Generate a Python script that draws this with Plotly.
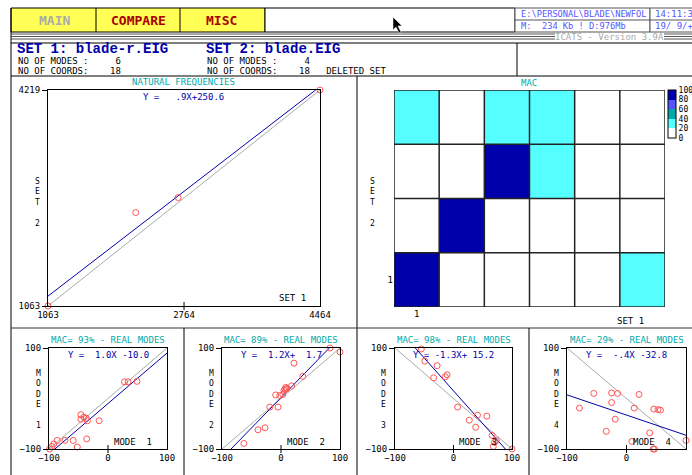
import numpy as np
import plotly.graph_objects as go

W, H = 692, 475


def fx(x):
    return x / W


def fy(y):
    return 1 - y / H


# ---------------- data ----------------
# natural frequencies of the paired modes (set 1 vs set 2)
nf_set1 = [1063, 2160, 2690, 4464]
nf_set2 = [1063, 2429, 2648, 4219]
nf_fit = (0.9, 250.6)
nf_xticks = [1063, 2764, 4464]
nf_yticks = [1063, 4219]

# MAC matrix: rows = set 2 modes, columns = set 1 modes (%)
mac_matrix = [
    [93, 4, 2, 1, 3, 27],
    [5, 89, 8, 3, 1, 2],
    [2, 6, 98, 24, 5, 1],
    [22, 3, 26, 29, 11, 7],
]
mac_bands = [0, 20, 40, 60, 80, 100]
mac_colors = ["#ffffff", "#55ffff", "#00aaaa", "#5555ff", "#0000aa"]

# mode shape correlation for each paired mode
modes = [1, 2, 3, 4]
mode_mac = [93, 89, 98, 29]
fit_slope = [1.0, 1.2, -1.3, -0.4]
fit_icpt = [-10.0, 1.7, 15.2, -32.8]

mode1_x = [-99, -95, -92, -86, -73, -59, -52, -36, -46, -46, -41, -37, -35, -15, 28, 34, 49]
mode1_y = [-100, -95, -90, -83, -83, -83, -96, -80, -32, -41, -37, -39, -44, -44, 33, 33, 34]
mode2_x = [83, 100, 22, 37, 18, 8, 9, 5, 3, -2, -9, -5, -19, -27, -39, -63, 10, 7]
mode2_y = [100, 92, 70, 44, 25, 22, 19, 16, 8, 6, 7, -17, -17, -58, -62, -89, 20, 18]
mode3_x = [-55, -49, -28, -11, -14, -34, 7, 41, 57, 27, 38, 66, 73, 70, 68, 100]
mode3_y = [98, 74, 65, 47, 43, 41, -17, -33, -35, -43, -57, -73, -83, -87, -95, -100]
mode4_x = [-79, -55, -25, -15, -25, 21, 13, -19, -34, 46, 53, 57, 39, 9, 47, 45, 100]
mode4_y = [-19, 10, 11, 10, -8, 8, -19, -41, -65, -21, -22, -23, -68, -85, -100, -100, -83]
mode_xs = [mode1_x, mode2_x, mode3_x, mode4_x]
mode_ys = [mode1_y, mode2_y, mode3_y, mode4_y]
mode_ticks = [-100, 0, 100]

# ---------------- styling ----------------
MONO = "DejaVu Sans Mono"
BLACK = "#000000"
TEAL = "#00aaaa"
DBLUE = "#0000aa"
LBLUE = "#5555ff"
RED = "#ff5555"
GRAY = "#aaaaaa"
TICK = dict(family=MONO, size=9, color=BLACK)


def fit_label(m, b):
    s = f"{m:.1f}".replace("0.", ".")
    s = s.rjust(4)
    if b >= 0:
        c = "+" + f"{b:5.1f}"
    else:
        c = " " + f"{b:5.1f}"
    return ("Y = " + s + "X" + c).replace(" ", "\u00a0")


def clip_line(m, b, xr, yr):
    lo, hi = xr
    if m != 0:
        xa = (yr[0] - b) / m
        xb = (yr[1] - b) / m
        lo = max(lo, min(xa, xb))
        hi = min(hi, max(xa, xb))
    xs = np.array([lo, hi])
    return xs, m * xs + b


fig = go.Figure()
shapes = []
ann = []


def text(x, y, s, color=BLACK, size=9, anchor="left", family=MONO):
    ann.append(dict(x=fx(x), y=fy(y), xref="paper", yref="paper",
                    text=s.replace(" ", "\u00a0"),
                    showarrow=False, xanchor=anchor, yanchor="middle",
                    font=dict(family=family, size=size, color=color)))


def hline(x0, x1, y, color=BLACK, w=1):
    shapes.append(dict(type="line", xref="paper", yref="paper", x0=fx(x0), x1=fx(x1), y0=fy(y), y1=fy(y),
                       line=dict(color=color, width=w)))


def vline(x, y0, y1, color=BLACK, w=1):
    shapes.append(dict(type="line", xref="paper", yref="paper", x0=fx(x), x1=fx(x), y0=fy(y0), y1=fy(y1),
                       line=dict(color=color, width=w)))


def rect(x0, y0, x1, y1, fill, color=BLACK, w=1, layer="below"):
    shapes.append(dict(type="rect", xref="paper", yref="paper", x0=fx(x0), x1=fx(x1), y0=fy(y1), y1=fy(y0),
                       fillcolor=fill, line=dict(color=color, width=w), layer=layer))


def stacked(x, ytop, label):
    # vertical axis title written one character per line
    ann.append(dict(x=fx(x), y=fy(ytop - 5), xref="paper", yref="paper",
                    text="<br>".join(label), showarrow=False, xanchor="center", yanchor="top",
                    font=dict(family=MONO, size=8, color=BLACK)))


# ---------------- screen frame ----------------
rect(11, 8, 265, 32, "#ffff55")
vline(96, 8, 32)
vline(180, 8, 32)
rect(265, 8, 515, 32, "#ffffff")
rect(515, 8, 650, 32, "#ffffff", color="#555555")
rect(650, 8, 700, 32, "#ffffff", color="#555555")
hline(515, 700, 20, color="#555555")
text(54, 20, "<b>MAIN</b>", color=GRAY, size=13, anchor="center")
text(138, 20, "<b>COMPARE</b>", color="#aa0000", size=13, anchor="center")
text(222, 20, "<b>MISC</b>", color="#aa0000", size=13, anchor="center")
text(519, 14, "E:\\PERSONAL\\BLADE\\NEWFOL", color=LBLUE, size=8.7)
text(519, 26, "M:  234 Kb ! D:976Mb", color=LBLUE, size=8.7)
text(653, 14, "14:11:3", color=LBLUE, size=9)
text(653, 26, "19/ 9/+", color=LBLUE, size=9)
for yy in (34, 36.5, 39):
    hline(11, 692, yy, color="#555555")
rect(555, 33, 664, 41, "#ffffff", color="#ffffff", w=0, layer="above")
text(609, 37, "ICATS - Version 3.9A", color=GRAY, size=9, anchor="center")

# mouse pointer
pts = [(393, 17), (393, 30), (396, 27), (399, 33), (401, 32), (398, 26), (402, 26)]
path = "M " + " L ".join(f"{fx(a):.5f},{fy(b):.5f}" for a, b in pts) + " Z"
shapes.append(dict(type="path", xref="paper", yref="paper", path=path, fillcolor=BLACK,
                   line=dict(color="#ffffff", width=0.5)))

# header block
hline(11, 692, 43)
hline(11, 692, 76)
vline(517, 43, 76)
vline(11, 8, 475)
text(15, 49, "<b>SET 1: blade-r.EIG</b>", color=DBLUE, size=14, family="Liberation Mono")
text(204, 49, "<b>SET 2: blade.EIG</b>", color=DBLUE, size=14, family="Liberation Mono")
text(16, 61, "NO OF MODES :     6")
text(16, 71, "NO OF COORDS:    18")
text(205, 61, "NO OF MODES :     4")
text(205, 71, "NO OF COORDS:    18   DELETED SET")

# panel separators
vline(357, 76, 475)
hline(11, 692, 328, color="#333333")
for xx in (184, 529):
    vline(xx, 328, 475)

layout_axes = {}


def scatter_axes(n, box, xr, yr, xt, yt):
    sx = "" if n == 1 else str(n)
    layout_axes["xaxis" + sx] = dict(domain=[fx(box[0]), fx(box[1])], range=xr, anchor="y" + sx,
                                     showline=True, mirror=True, linecolor=BLACK, linewidth=1,
                                     showgrid=False, zeroline=False, tickvals=xt, ticks="",
                                     tickfont=TICK, fixedrange=True, automargin=False)
    layout_axes["yaxis" + sx] = dict(domain=[fy(box[3]), fy(box[2])], range=yr, anchor="x" + sx,
                                     showline=True, mirror=True, linecolor=BLACK, linewidth=1,
                                     showgrid=False, zeroline=False, tickvals=yt, ticks="outside",
                                     ticklen=5, tickcolor=BLACK, tickfont=TICK, fixedrange=True,
                                     automargin=False)


# ---------------- natural frequencies ----------------
NF_BOX = (48, 320, 90, 306)
nf_xr = [nf_xticks[0], nf_xticks[-1]]
nf_yr = [nf_yticks[0], nf_yticks[-1]]
fig.add_trace(go.Scatter(x=nf_xr, y=nf_yr, mode="lines", line=dict(color=GRAY, width=1),
                         xaxis="x", yaxis="y", hoverinfo="skip"))
lx, ly = clip_line(nf_fit[0], nf_fit[1], nf_xr, nf_yr)
fig.add_trace(go.Scatter(x=lx, y=ly, mode="lines", line=dict(color=DBLUE, width=1),
                         xaxis="x", yaxis="y"))
fig.add_trace(go.Scatter(x=nf_set1, y=nf_set2, mode="markers", cliponaxis=False,
                         marker=dict(symbol="circle-open", size=6, color=RED, line=dict(width=1)),
                         xaxis="x", yaxis="y"))
scatter_axes(1, NF_BOX, nf_xr, nf_yr, nf_xticks, nf_yticks)
text(183, 82, "NATURAL FREQUENCIES", color=TEAL, anchor="center")
text(183, 97, fit_label(*nf_fit), color=DBLUE, anchor="center")
text(308, 298, "SET 1", anchor="right")
stacked(37, 180, "SET 2")
shapes.append(dict(type="line", xref="x", yref="paper", x0=nf_xticks[1], x1=nf_xticks[1],
                   y0=fy(NF_BOX[3] + 4), y1=fy(NF_BOX[3] - 4), line=dict(color=BLACK, width=1)))

# ---------------- MAC matrix ----------------
MAC_BOX = (394, 665, 90, 307)
n_rows, n_cols = len(mac_matrix), len(mac_matrix[0])
cs = []
for i, c in enumerate(mac_colors):
    cs.append([mac_bands[i] / 100, c])
    cs.append([mac_bands[i + 1] / 100, c])
fig.add_trace(go.Heatmap(
    z=mac_matrix, x=list(range(1, n_cols + 1)), y=list(range(1, n_rows + 1)),
    zmin=mac_bands[0], zmax=mac_bands[-1], colorscale=cs, xaxis="x2", yaxis="y2",
    colorbar=dict(x=fx(668), xanchor="left", y=fy(90), yanchor="top", lenmode="pixels", len=48,
                  thickness=8, xpad=0, ypad=0, outlinecolor=BLACK, outlinewidth=1,
                  tickvals=mac_bands, ticks="", tickfont=dict(family=MONO, size=8, color=BLACK))))
layout_axes["xaxis2"] = dict(domain=[fx(MAC_BOX[0]), fx(MAC_BOX[1])], range=[0.5, n_cols + 0.5],
                             anchor="y2", showgrid=False, zeroline=False, showline=False,
                             tickvals=[1], ticks="", tickfont=TICK, fixedrange=True, automargin=False)
layout_axes["yaxis2"] = dict(domain=[fy(MAC_BOX[3]), fy(MAC_BOX[2])], range=[0.5, n_rows + 0.5],
                             anchor="x2", showgrid=False, zeroline=False, showline=False,
                             tickvals=[1], ticks="", tickfont=TICK, fixedrange=True, automargin=False)
for k in range(n_cols + 1):
    shapes.append(dict(type="line", xref="x2", yref="y2 domain", x0=k + 0.5, x1=k + 0.5, y0=0, y1=1,
                       line=dict(color="#222222", width=1.5)))
for k in range(n_rows + 1):
    shapes.append(dict(type="line", xref="x2 domain", yref="y2", x0=0, x1=1, y0=k + 0.5, y1=k + 0.5,
                       line=dict(color="#222222", width=1.5)))
text(529, 83, "MAC", color=TEAL, anchor="center")
text(646, 321, "SET 1", anchor="right")
stacked(372, 180, "SET 2")

# ---------------- mode shape plots ----------------
BOXES = [(49, 167), (222, 340), (395, 512), (567, 686)]
Y0, Y1 = 348, 449
for i, m in enumerate(modes):
    n = i + 3
    ax, ay = f"x{n}", f"y{n}"
    bx = BOXES[i]
    xr = [mode_ticks[0], mode_ticks[-1]]
    yr = [mode_ticks[0], mode_ticks[-1]]
    slope, icpt = fit_slope[i], fit_icpt[i]
    diag_y = yr if slope >= 0 else yr[::-1]
    fig.add_trace(go.Scatter(x=xr, y=diag_y, mode="lines", line=dict(color=GRAY, width=1),
                             xaxis=ax, yaxis=ay, hoverinfo="skip"))
    lx, ly = clip_line(slope, icpt, xr, yr)
    fig.add_trace(go.Scatter(x=lx, y=ly, mode="lines", line=dict(color=DBLUE, width=1),
                             xaxis=ax, yaxis=ay))
    fig.add_trace(go.Scatter(x=mode_xs[i], y=mode_ys[i], mode="markers", cliponaxis=False,
                             marker=dict(symbol="circle-open", size=6, color=RED, line=dict(width=1)),
                             xaxis=ax, yaxis=ay))
    scatter_axes(n, (bx[0], bx[1], Y0, Y1), xr, yr, mode_ticks, [mode_ticks[0], mode_ticks[-1]])
    cx = (bx[0] + bx[1]) / 2
    text(cx, 340, f"MAC= {mode_mac[i]}% - REAL MODES", color=TEAL, anchor="center")
    text(cx, 355, fit_label(slope, icpt), color=DBLUE, anchor="center")
    text(bx[1] - 13, 442, f"MODE  {m}", anchor="right")
    stacked(bx[0] - 11, 372, "MODE " + str(m))
    shapes.append(dict(type="line", xref=ax, yref="paper", x0=mode_ticks[1], x1=mode_ticks[1],
                       y0=fy(Y1 + 4), y1=fy(Y1 - 4), line=dict(color=BLACK, width=1)))

fig.update_layout(
    width=W, height=H, margin=dict(l=0, r=0, t=0, b=0, autoexpand=False),
    paper_bgcolor="#ffffff", plot_bgcolor="rgba(0,0,0,0)",
    showlegend=False, shapes=shapes, annotations=ann,
    **layout_axes,
)
fig.write_html("out.html")
